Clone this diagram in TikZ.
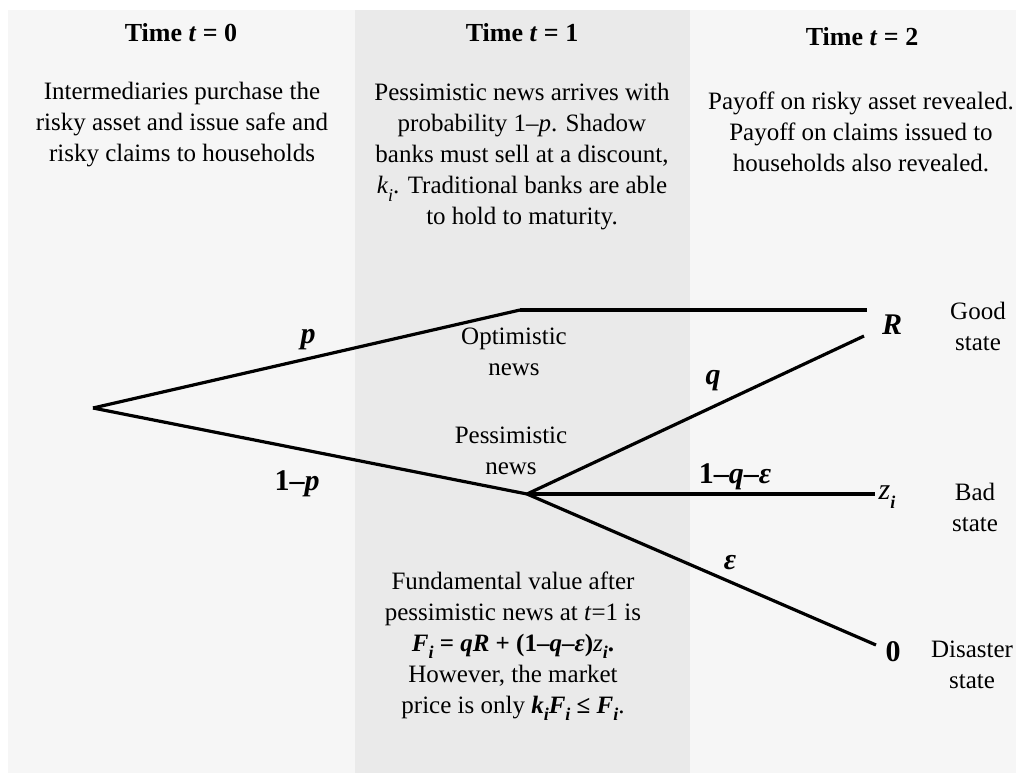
\documentclass[tikz,border=0pt]{standalone}
\usepackage{fontspec}
\setmainfont{Liberation Serif}
\definecolor{outerbg}{HTML}{F6F6F6}
\definecolor{midbg}{HTML}{EAEAEA}
\newcommand{\lowi}[1]{\raisebox{-0.3em}{\fontsize{18}{18}\selectfont #1}}
\newcommand{\bi}[1]{\textbf{\textit{#1}}}
\begin{document}
\begin{tikzpicture}[x=1pt,y=-1pt,
  body/.style={font=\fontsize{25}{31}\selectfont, align=center, inner sep=0pt},
  ttl/.style={font=\bfseries\fontsize{26}{31}\selectfont, inner sep=0pt},
  lab/.style={font=\bfseries\itshape\fontsize{30}{32}\selectfont, inner sep=0pt},
  branch/.style={line width=3.2pt}]
\useasboundingbox (0,0) rectangle (1016,773);
\fill[white] (0,0) rectangle (1016,773);
\fill[outerbg] (8,10) rectangle (1016,773);
\fill[midbg] (355,10) rectangle (690,773);

% titles
\node[ttl] (t0) at (181,33) {Time \textit{t} = 0};
\node[ttl] (t1) at (522,33) {Time \textit{t} = 1};
\node[ttl] (t2) at (862,37) {Time \textit{t} = 2};

% descriptions
\node[body] (d0) at (182,125) {Intermediaries purchase the\\risky asset and issue safe and\\risky claims to households};
\node[body] (d1) at (522,157) {Pessimistic news arrives with\\probability 1–\textit{p}. Shadow\\banks must sell at a discount,\\\textit{k}\lowi{\textit{i}}. Traditional banks are able\\to hold to maturity.};
\node[body] (d2) at (861,132) {Payoff on risky asset revealed.\\Payoff on claims issued to\\households also revealed.};
\node[body] (fv) at (513,646) {Fundamental value after\\pessimistic news at \textit{t}=1 is\\\textbf{\textit{F}\lowi{\textit{i}} = \textit{qR} + (1–\textit{q}–\textit{ε})}\textit{z}\lowi{\bi{i}}\textbf{.}\\However, the market\\price is only \bi{k}\lowi{\bi{i}}\bi{F}\lowi{\bi{i}} \textbf{≤} \bi{F}\lowi{\bi{i}}.};

% tree points
\coordinate (root) at (93,408);
\coordinate (opt) at (520,310);
\coordinate (pes) at (527,494);
\coordinate (optend) at (867,310);
\coordinate (qend) at (864,336);
\coordinate (badend) at (875,494);
\coordinate (disend) at (876,645);

\draw[branch] (root) -- (opt);
\draw[branch] (root) -- (pes);
\draw[branch] (opt) -- (optend);
\draw[branch] (pes) -- (qend);
\draw[branch] (pes) -- (badend);
\draw[branch] (pes) -- (disend);

% branch labels
\node[lab] (lp) at (308,340) {p};
\node[lab] (l1p) at (297,484) {\upshape 1–\itshape p};
\node[lab] (lq) at (713,381) {q};
\node[lab] (lbad) at (735,477) {\upshape 1–\itshape q\upshape –\itshape ε};
\node[lab] (leps) at (730,563) {ε};

% node texts
\node[body] (optn) at (514,352) {Optimistic\\news};
\node[body] (pesn) at (511,451) {Pessimistic\\news};

% outcomes
\node[lab] (R) at (892,325) {R};
\node[font=\fontsize{30}{32}\selectfont, inner sep=0pt] (zi) at (887,497) {\textit{z}\lowi{\bi{i}}};
\node[lab] (zero) at (893,652) {\upshape 0};
\node[body] (good) at (978,326) {Good\\state};
\node[body] (bad) at (975,507) {Bad\\state};
\node[body] (dis) at (972,665) {Disaster\\state};
\end{tikzpicture}
\end{document}
